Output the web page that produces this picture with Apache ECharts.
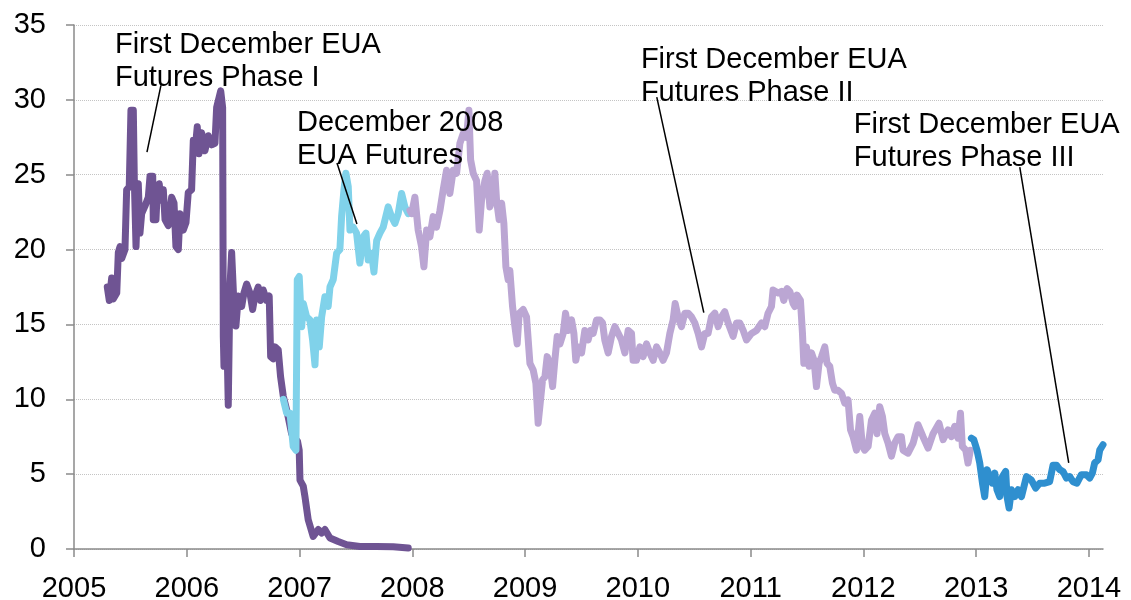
<!DOCTYPE html>
<html>
<head>
<meta charset="utf-8">
<title>EUA Futures</title>
<script src="https://cdn.jsdelivr.net/npm/echarts@6/dist/echarts.min.js"></script>
<style>
  html, body { margin: 0; padding: 0; background: #fff; }
  #chart { width: 1131px; height: 600px; }
</style>
</head>
<body>
<div id="chart"></div>
<script>
// 年份刻度
const yearTicks = [2005, 2006, 2007, 2008, 2009, 2010, 2011, 2012, 2013, 2014];

// First December EUA Futures Phase I
const phase1Years = [2005.295, 2005.313, 2005.334, 2005.348, 2005.379, 2005.393, 2005.408, 2005.423, 2005.452, 2005.467,
  2005.490, 2005.505, 2005.526, 2005.535, 2005.550, 2005.570, 2005.585, 2005.600, 2005.629, 2005.659,
  2005.674, 2005.698, 2005.703, 2005.727, 2005.738, 2005.756, 2005.769, 2005.792, 2005.807, 2005.836,
  2005.866, 2005.887, 2005.904, 2005.925, 2005.940, 2005.969, 2005.993, 2006.013, 2006.043, 2006.058,
  2006.082, 2006.093, 2006.108, 2006.132, 2006.161, 2006.191, 2006.221, 2006.250, 2006.265, 2006.288,
  2006.301, 2006.318, 2006.324, 2006.330, 2006.348, 2006.368, 2006.383, 2006.398, 2006.418, 2006.436,
  2006.457, 2006.487, 2006.507, 2006.531, 2006.560, 2006.584, 2006.605, 2006.634, 2006.655, 2006.678,
  2006.708, 2006.731, 2006.744, 2006.767, 2006.782, 2006.811, 2006.832, 2006.856, 2006.886, 2006.930,
  2006.959, 2006.982, 2006.997, 2007.004, 2007.033, 2007.048, 2007.077, 2007.121, 2007.166, 2007.196,
  2007.225, 2007.270, 2007.343, 2007.418, 2007.535, 2007.684, 2007.831, 2007.964];
const phase1Prices = [17.5, 16.6, 18.1, 16.7, 17.1, 19.8, 20.2, 19.4, 20.0, 24.0,
  24.2, 29.3, 29.3, 24.6, 20.2, 24.4, 21.1, 22.4, 22.9, 23.5,
  24.9, 24.9, 22.0, 22.0, 23.8, 24.4, 23.3, 24.0, 22.0, 21.6,
  23.5, 23.1, 20.2, 20.0, 22.4, 21.3, 21.8, 23.8, 24.0, 27.3,
  27.3, 28.2, 26.4, 27.8, 26.6, 27.6, 27.0, 27.1, 29.5, 30.2,
  30.6, 29.5, 14.2, 12.2, 17.1, 9.6, 17.5, 19.8, 16.4, 14.9,
  16.9, 16.2, 17.1, 17.7, 17.1, 16.0, 16.9, 17.5, 16.6, 17.3,
  16.6, 16.9, 12.85, 12.7, 13.5, 13.3, 11.5, 10.2, 9.3, 7.7,
  7.4, 7.2, 6.6, 4.6, 4.2, 3.5, 1.95, 0.84, 1.3, 1.07,
  1.3, 0.73, 0.5, 0.29, 0.17, 0.17, 0.15, 0.07];

// December 2008 EUA Futures
const dec08Years = [2006.856, 2006.886, 2006.915, 2006.944, 2006.968, 2006.980, 2006.997, 2007.019, 2007.033, 2007.063,
  2007.092, 2007.116, 2007.137, 2007.152, 2007.175, 2007.196, 2007.225, 2007.254, 2007.270, 2007.299,
  2007.329, 2007.358, 2007.373, 2007.394, 2007.411, 2007.432, 2007.447, 2007.476, 2007.506, 2007.535,
  2007.565, 2007.589, 2007.609, 2007.639, 2007.660, 2007.684, 2007.713, 2007.742, 2007.786, 2007.816,
  2007.846, 2007.875, 2007.905, 2007.934, 2007.964, 2007.979];
const dec08Prices = [10.0, 9.07, 9.07, 6.85, 6.6, 18.0, 18.2, 14.85, 16.4, 15.5,
  15.3, 13.96, 12.3, 15.3, 13.5, 15.5, 16.85, 16.2, 17.5, 18.0,
  19.75, 20.0, 22.2, 24.0, 25.1, 24.2, 21.3, 21.5, 21.1, 19.1,
  20.85, 21.1, 19.3, 19.75, 18.5, 20.6, 21.1, 21.5, 22.85, 22.2,
  21.75, 22.4, 23.75, 22.85, 22.4, 22.6];

// First December EUA Futures Phase II
const phase2Years = [2007.979, 2007.994, 2008.023, 2008.052, 2008.082, 2008.103, 2008.127, 2008.156, 2008.185, 2008.215,
  2008.245, 2008.274, 2008.304, 2008.333, 2008.363, 2008.393, 2008.422, 2008.451, 2008.481, 2008.502,
  2008.517, 2008.540, 2008.570, 2008.593, 2008.614, 2008.644, 2008.664, 2008.688, 2008.712, 2008.732,
  2008.747, 2008.770, 2008.792, 2008.812, 2008.830, 2008.850, 2008.865, 2008.889, 2008.910, 2008.930,
  2008.948, 2008.983, 2009.013, 2009.043, 2009.072, 2009.096, 2009.116, 2009.131, 2009.155, 2009.176,
  2009.196, 2009.220, 2009.244, 2009.264, 2009.285, 2009.309, 2009.338, 2009.359, 2009.382, 2009.412,
  2009.433, 2009.450, 2009.471, 2009.501, 2009.530, 2009.559, 2009.581, 2009.604, 2009.634, 2009.663,
  2009.687, 2009.707, 2009.737, 2009.767, 2009.796, 2009.826, 2009.855, 2009.885, 2009.914, 2009.944,
  2009.958, 2009.988, 2010.018, 2010.047, 2010.077, 2010.106, 2010.136, 2010.166, 2010.195, 2010.224,
  2010.254, 2010.284, 2010.313, 2010.331, 2010.357, 2010.387, 2010.417, 2010.446, 2010.476, 2010.505,
  2010.535, 2010.565, 2010.594, 2010.623, 2010.653, 2010.683, 2010.712, 2010.742, 2010.771, 2010.801,
  2010.845, 2010.875, 2010.904, 2010.934, 2010.964, 2011.008, 2011.052, 2011.097, 2011.126, 2011.155,
  2011.185, 2011.199, 2011.244, 2011.274, 2011.294, 2011.324, 2011.348, 2011.377, 2011.392, 2011.412,
  2011.442, 2011.460, 2011.472, 2011.495, 2011.519, 2011.540, 2011.563, 2011.584, 2011.607, 2011.629,
  2011.658, 2011.678, 2011.702, 2011.726, 2011.746, 2011.776, 2011.806, 2011.835, 2011.864, 2011.886,
  2011.909, 2011.939, 2011.968, 2011.992, 2012.012, 2012.042, 2012.072, 2012.101, 2012.121, 2012.145,
  2012.169, 2012.190, 2012.219, 2012.249, 2012.278, 2012.307, 2012.337, 2012.352, 2012.396, 2012.441,
  2012.485, 2012.529, 2012.574, 2012.618, 2012.671, 2012.707, 2012.751, 2012.781, 2012.810, 2012.840,
  2012.861, 2012.878, 2012.908, 2012.928, 2012.949];
const phase2Prices = [22.6, 22.4, 23.5, 21.3, 20.2, 18.85, 21.3, 20.85, 22.2, 21.5,
  22.6, 24.0, 25.3, 23.75, 25.3, 25.1, 27.1, 27.75, 27.5, 29.3,
  26.0, 25.1, 24.6, 21.3, 23.3, 24.6, 25.1, 22.85, 23.5, 25.1,
  23.3, 22.0, 23.1, 21.75, 18.85, 18.0, 18.6, 16.2, 14.85, 13.7,
  15.75, 16.0, 15.5, 12.4, 11.96, 11.07, 8.4, 9.5, 11.3, 11.5,
  12.85, 12.4, 10.85, 12.6, 14.2, 13.7, 14.4, 15.75, 14.6, 15.3,
  14.4, 12.6, 13.5, 13.1, 14.6, 13.96, 14.6, 14.4, 15.3, 15.3,
  15.1, 13.96, 13.1, 14.2, 14.85, 14.4, 13.96, 13.1, 14.6, 14.4,
  12.6, 12.6, 13.5, 12.85, 13.7, 13.1, 12.6, 13.5, 13.1, 12.6,
  13.1, 14.4, 15.3, 16.4, 15.5, 14.85, 15.75, 15.75, 15.5, 15.1,
  14.4, 13.5, 14.4, 14.4, 15.5, 15.75, 14.85, 15.5, 15.85, 15.1,
  14.2, 15.1, 15.1, 14.6, 13.96, 14.4, 14.6, 15.1, 14.85, 15.75,
  16.2, 17.3, 17.1, 17.2, 16.6, 17.4, 17.2, 16.4, 16.2, 16.96,
  16.6, 14.4, 12.4, 13.5, 12.2, 13.1, 12.6, 10.85, 12.4, 12.85,
  13.5, 12.4, 12.2, 11.07, 10.6, 10.6, 10.4, 9.74, 9.96, 7.96,
  7.5, 6.6, 8.85, 6.85, 6.6, 6.85, 8.6, 9.07, 7.7, 9.5,
  8.85, 7.7, 7.07, 6.2, 7.07, 7.5, 7.5, 6.6, 6.4, 7.07,
  8.3, 7.5, 6.74, 7.7, 8.4, 7.3, 7.96, 7.5, 8.2, 7.4,
  9.07, 6.85, 6.6, 5.74, 6.6];

// First December EUA Futures Phase III
const phase3Years = [2012.958, 2012.979, 2013.008, 2013.032, 2013.056, 2013.076, 2013.097, 2013.121, 2013.144, 2013.165,
  2013.185, 2013.209, 2013.233, 2013.262, 2013.274, 2013.292, 2013.313, 2013.342, 2013.372, 2013.402,
  2013.446, 2013.490, 2013.528, 2013.564, 2013.608, 2013.652, 2013.682, 2013.712, 2013.741, 2013.770,
  2013.801, 2013.830, 2013.859, 2013.894, 2013.933, 2013.978, 2014.007, 2014.031, 2014.051, 2014.081,
  2014.096, 2014.125];
const phase3Prices = [7.4, 7.3, 6.6, 5.74, 4.4, 3.5, 5.3, 4.84, 4.4, 5.07,
  3.96, 3.5, 4.84, 5.18, 3.5, 2.74, 3.96, 3.5, 3.96, 3.5,
  4.84, 4.6, 4.07, 4.4, 4.4, 4.5, 5.6, 5.6, 5.3, 5.18,
  4.74, 4.84, 4.5, 4.4, 4.96, 4.96, 4.74, 5.07, 5.74, 5.96,
  6.6, 6.96];

// 注释文字与引线（数据坐标）
const noteTexts = ['First December EUA\nFutures Phase I', 'December 2008\nEUA Futures',
  'First December EUA\nFutures Phase II', 'First December EUA\nFutures Phase III'];
const noteTextAt = [[2005.363, 34.74], [2006.977, 29.54], [2010.027, 33.74], [2011.915, 29.41]];
const noteLineFrom = [[2005.771, 30.97], [2007.332, 25.78], [2010.168, 30.18], [2013.387, 25.51]];
const noteLineTo = [[2005.647, 26.51], [2007.509, 21.71], [2010.585, 15.79], [2013.821, 5.76]];

const FONT = "'Liberation Sans', Arial, sans-serif";

function zip(xs, ys) {
    return xs.map((x, i) => [x, ys[i]]);
}

function makeLine(name, xs, ys, color) {
    return {
        name: name,
        type: 'line',
        data: zip(xs, ys),
        showSymbol: false,
        symbol: 'none',
        lineStyle: { color: color, width: 7, join: 'round', cap: 'round' },
        itemStyle: { color: color },
    };
}

function getOption() {
    let series = [
        makeLine('Phase I', phase1Years, phase1Prices, '#6f5493'),
        makeLine('Dec 2008', dec08Years, dec08Prices, '#80d2ea'),
        makeLine('Phase II', phase2Years, phase2Prices, '#bba6d3'),
        makeLine('Phase III', phase3Years, phase3Prices, '#2f8fcf'),
    ];
    // 引线
    series.push({
        type: 'line',
        data: [],
        silent: true,
        markLine: {
            silent: true,
            symbol: ['none', 'none'],
            animation: false,
            label: { show: false },
            lineStyle: { color: '#000', width: 1.5, type: 'solid' },
            emphasis: { disabled: true },
            data: noteLineFrom.map((p, i) => [{ coord: p }, { coord: noteLineTo[i] }]),
        },
    });
    return {
        animation: false,
        backgroundColor: '#fff',
        // 不让标签挤压绘图区
        grid: { left: 74, right: 28, top: 25, bottom: 51, outerBoundsMode: 'none', containLabel: false },
        xAxis: {
            type: 'value',
            min: 2005,
            max: 2014.125,
            axisLine: { show: true, onZero: false, lineStyle: { color: '#8a8a8a', width: 1.5 } },
            axisTick: { show: true, length: 8, customValues: yearTicks, lineStyle: { color: '#8a8a8a', width: 1.5 } },
            axisLabel: {
                customValues: yearTicks,
                formatter: v => String(v),
                color: '#000',
                fontSize: 29,
                fontFamily: FONT,
                margin: 25,
            },
            splitLine: { show: false },
        },
        yAxis: {
            type: 'value',
            min: 0,
            max: 35,
            interval: 5,
            axisLine: { show: true, lineStyle: { color: '#8a8a8a', width: 1.5 } },
            axisTick: { show: true, length: 8, lineStyle: { color: '#8a8a8a', width: 1.5 } },
            axisLabel: { color: '#000', fontSize: 29, fontFamily: FONT, margin: 28 },
            splitLine: { show: true, lineStyle: { color: '#c4c4c4', type: 'dotted', width: 1 } },
        },
        series: series,
    };
}

function drawChart() {
    let chartDom = document.getElementById('chart');
    let chart = echarts.init(chartDom, null, { renderer: 'canvas' });
    chart.setOption(getOption());

    // 注释文字
    let texts = noteTexts.map((t, i) => {
        let p = chart.convertToPixel({ gridIndex: 0 }, noteTextAt[i]);
        return {
            type: 'text',
            x: p[0],
            y: p[1],
            z: 100,
            style: {
                text: t,
                fill: '#000',
                font: '29px ' + FONT,
                lineHeight: 33,
                align: 'left',
                verticalAlign: 'top',
            },
        };
    });
    chart.setOption({ graphic: texts });
}

drawChart();
</script>
</body>
</html>
